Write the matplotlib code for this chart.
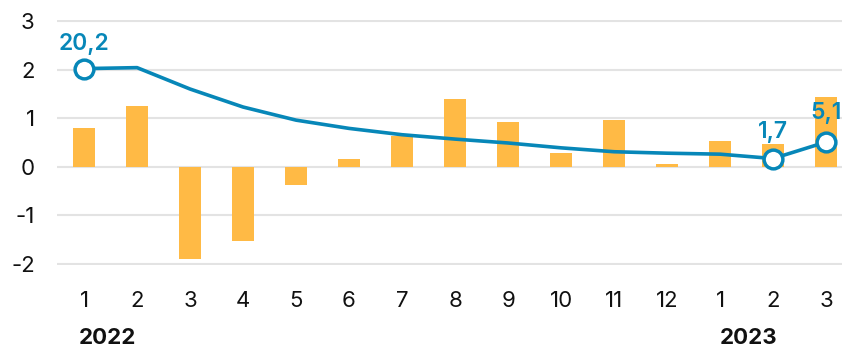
import matplotlib.pyplot as plt
import matplotlib.transforms as mtransforms

plt.rcParams['font.family'] = ['Inter', 'DejaVu Sans']

months = ['1', '2', '3', '4', '5', '6', '7', '8', '9', '10', '11', '12', '1', '2', '3']
years = {'2022': 0.45, '2023': 12.53}
# monthly change, % m/m
monthly = [0.80, 1.25, -1.89, -1.52, -0.37, 0.16, 0.64, 1.40, 0.92, 0.29, 0.97, 0.06, 0.53, 0.47, 1.44]
# annual change, % y/y (drawn on a 1:10 scale)
annual = [20.2, 20.4, 16.0, 12.3, 9.6, 7.9, 6.6, 5.7, 4.9, 3.9, 3.1, 2.8, 2.6, 1.7, 5.1]
labelled = [0, 13, 14]

bar_color = '#FFBA45'
line_color = '#0787B8'

fig = plt.figure(figsize=(8.42, 3.49), dpi=100)
ax = fig.add_axes([57 / 842, 1 - 265 / 349, 1 - 57 / 842, 245 / 349])

x = list(range(len(months)))
ax.bar(x, monthly, width=0.42, color=bar_color, zorder=2)

scaled = [v / 10 for v in annual]
ax.plot(x, scaled, color=line_color, lw=2.6, zorder=3, solid_capstyle='round')
ax.plot([x[i] for i in labelled], [scaled[i] for i in labelled], 'o', ms=13.5,
        mfc='white', mec=line_color, mew=2.5, zorder=4)

offsets = {0: 25, 13: 27, 14: 29}
for i in labelled:
    ax.annotate(f'{annual[i]:.1f}'.replace('.', ','), (x[i], scaled[i]),
                xytext=(0, offsets[i] / 1.389), textcoords='offset points',
                ha='center', va='center', fontsize=16.5, fontweight='semibold',
                color=line_color, zorder=5, annotation_clip=False)

ax.set_xlim(-0.51, 14.30)
ax.set_ylim(-2.02, 3.02)
ax.set_yticks([-2, -1, 0, 1, 2, 3])
ax.set_yticklabels(['-2', '-1', '0', '1', '2', '3'])
ax.set_xticks(x)
ax.set_xticklabels(months)
ax.tick_params(axis='both', length=0, labelsize=16, colors='#111111')
ax.tick_params(axis='y', pad=16)
ax.tick_params(axis='x', pad=19)
ax.grid(axis='y', color='#E3E3E3', lw=1.5, zorder=0)
ax.set_axisbelow(True)
for s in ax.spines.values():
    s.set_visible(False)

trans = mtransforms.blended_transform_factory(ax.transData, ax.transAxes)
for yr, pos in years.items():
    ax.text(pos, -0.298, yr, transform=trans, ha='center', va='center',
            fontsize=16, fontweight='bold', color='#111111')

fig.savefig('out.png', dpi=100)
